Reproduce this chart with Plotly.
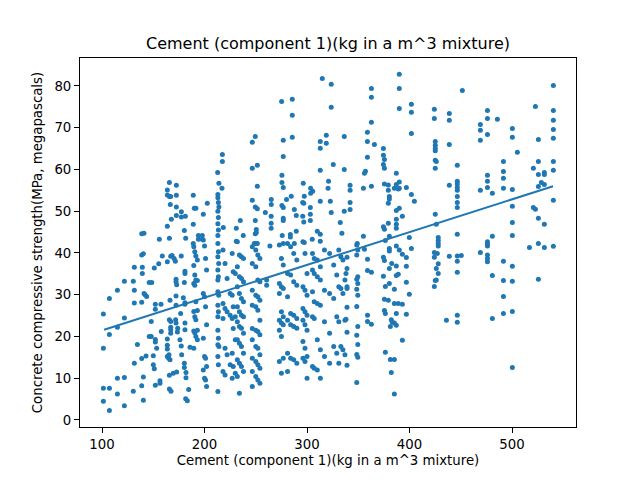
import numpy as np
import plotly.graph_objects as go

# cement (kg/m^3) vs compressive strength (MPa), grouped by cement range
cement_a = [101.3, 101.3, 101.3, 101.3, 107.2, 107.2, 107.2, 107.2, 115, 115, 115, 115,
            121.8, 121.8, 121.8, 121.8, 130.5, 131.5, 131.5, 131.5, 131.5, 130.5, 134.5,
            138.7, 140.9, 138.7, 140.3, 139.3, 139.3, 138.7, 141, 142, 143.5, 142.9, 138.7,
            140.3, 138.7, 140.3, 146, 148.5, 148, 148, 146, 150, 150, 151, 151, 152, 152, 152,
            152, 153.3, 152, 155.3, 155.9, 156.5, 156.5, 157.5, 157.8, 158.8]
strength_a = [25.4, 17.2, 7.6, 4.5, 29.1, 20.5, 7.6, 2.3, 31.1, 22.2, 10, 6.2,
              33.2, 24.4, 10.2, 3.4, 33.2, 36.6, 31.1, 28, 13.6, 6.9, 18.1,
              44.6, 44.7, 39.5, 39.8, 36.6, 35.1, 28.2, 30.3, 30, 29.6, 15.3, 14.7,
              10.3, 8.2, 4.7, 32.9, 32.9, 23.6, 20, 20, 15.4, 13.2, 12.3, 36.4, 27.7, 26.5, 19.3,
              18.7, 17.2, 8.3, 37.4, 43.3, 9.4, 8.8, 27.7, 21.2, 39.3]

cement_b = [163.7, 163.7, 165.7, 165.7, 167, 166.6, 167.6, 163.7, 165.7, 163.7, 167, 168.3,
            166.3, 165.7, 167, 167, 167, 167, 163.7, 163.7, 163.7, 163.7, 165.3, 165, 166.3,
            165.7, 169.5, 172.8, 165.7, 167.3,
            172.5, 172.5, 172.5, 172.5, 171.5, 170.3, 172.2, 172.2, 172.8, 172.2, 172.2,
            171.8, 172.2, 173.8, 173.5,
            177.4, 177.4, 181.3, 180.3, 181.6, 177.3, 176.7, 180.9, 180.9, 180.3, 180.9,
            180.9, 179.3, 180.9, 180.9, 176, 177.3, 177.7, 180.3, 180.3, 181.9, 181.9, 184.5,
            181.6, 183.2, 185.8]
strength_b = [55.1, 53.9, 56.9, 53.5, 53.5, 51.6, 48.1, 46.4, 43.5, 37.9, 39.2, 39.4,
              28.7, 24, 23.6, 22.2, 21.6, 20.8, 19.4, 17.9, 17, 15.2, 15.6, 14.8, 14.4,
              10.7, 11.2, 11.5, 7.4, 6.9,
              56.2, 53.8, 51, 49, 38, 38.7, 33.7, 33.1, 32.4, 29.7, 27.5,
              24, 23.2, 22, 21.1,
              49.9, 48.6, 48.8, 45.4, 43.5, 39.3, 25.5, 23.2, 21.6, 32.9, 35.6,
              35.1, 29.3, 28.1, 27.7, 19.2, 17.7, 15.6, 13.6, 12.6, 11.4, 10.1, 7.3,
              5.1, 4.6, 17.4]

cement_c = [189, 189, 190, 191.6, 189, 194, 197.8, 194, 197.8, 198.8, 202.7,
            189.5, 190.5, 191.5, 193, 189.5, 190.5, 191.5, 193, 189.5, 190.5, 191.5, 193,
            189.5, 190.5, 191.5, 193, 189.5, 190.5, 191.5, 193, 189.5,
            198.8, 200, 201, 202, 198.8, 200, 201, 202, 198.8, 200, 201, 202, 198.8, 200, 201, 202]
strength_c = [53.8, 46.9, 50.7, 50.7, 42.3, 44.2, 44.2, 43.3, 43.3, 49.3, 51.9,
              41.5, 40.3, 39.3, 38.3, 37, 34.7, 33.5, 33.4, 32.7, 32.3, 28.3, 26.2,
              26, 24.7, 24, 21.5, 21.3, 20.9, 20, 19.2, 17.2,
              43.1, 41.7, 38.7, 35.9, 30.3, 29.5, 27.1, 22.8, 19.6, 15.2, 14.8, 12.8, 12, 10, 9.6, 8]

cement_d = [217.4, 217.4, 212.8, 214, 217, 213, 213, 213.5, 214, 213, 213.5, 213, 218.3, 213.5, 213,
            213, 213.5, 213, 213.8, 213, 213.5, 213, 213, 213.8, 213, 213.5, 213, 213, 213.5,
            213, 214, 213, 213.5, 213,
            231, 234.9, 237.8, 231,
            218, 220, 222, 225, 218, 220, 222, 225, 218, 220, 222, 225, 218, 220,
            227, 228, 230, 227, 228, 230, 227, 228, 230, 227, 228, 230, 227,
            232, 234, 236, 238, 232, 234, 236, 238, 232, 234, 236, 238, 232, 234, 236, 238,
            232, 234, 236, 238, 232, 234, 236, 238, 232, 234, 236, 238, 232, 234]
strength_d = [63.6, 61.9, 59.3, 56.7, 55.5, 54, 53.2, 52.1, 51, 50, 48.5, 47, 46.1, 45.5, 44.2,
              42.3, 40.3, 39.1, 37.5, 35.9, 34.3, 33.5, 30.7, 29.9, 27.5, 25.9, 24.7, 21.5, 19.6,
              18, 17.6, 15.2, 13.2, 6.8,
              45.9, 47.8, 44.2, 42.8,
              40.7, 37.5, 33.9, 30.3, 27.9, 26.7, 25.9, 25.1, 24.3, 17.2, 15.6, 13.2, 11.6, 10.8,
              39.9, 35.5, 35.1, 29.9, 27.1, 24.7, 24.3, 21.9, 19.2, 16, 12.8, 11.2, 10,
              42.7, 39.5, 39.1, 38.7, 36.7, 34.3, 33.9, 33.1, 31.9, 30.3, 29.1, 28.3, 27.1, 25.9,
              25.1, 24.7, 23.5, 22.4, 22, 20.8, 19.2, 18.4, 17.6, 16, 14.4, 13.6, 12.8, 11.6,
              10.4, 6.4]

cement_e = [246.6, 249.5, 246.6, 251.5, 251.5, 246.6, 249.5, 251.5, 249.5, 250.5, 249.5, 250.5,
            248.5, 251.5, 250,
            246.6, 250, 252, 254, 246.6, 250, 252, 254, 246.6, 250, 252, 254, 246.6, 250, 252, 254,
            246.6, 250, 252, 254, 246.6, 250, 252, 254, 246.6, 250, 252, 254, 246.6, 250, 252, 254,
            246.6,
            260.6, 260.6, 263.8, 259.3, 265.1, 265.1, 265, 265, 265]
strength_e = [66.5, 67.9, 60.3, 61, 56, 52.6, 51, 50.6, 47.8, 45.6, 44.6, 44.9,
              42.3, 42.3, 42.3,
              41.5, 40.7, 39.5, 38.7, 37.5, 36.7, 33.5, 33.1, 31.1, 29.9, 29.5, 28.7, 27.5, 27.1,
              26.3, 23.9, 21.9, 21.5, 21.2, 20.4, 19.2, 17.6, 17.2, 15.6, 14.8, 14, 13.2, 12.4,
              11.6, 10.4, 9.6, 8.8, 8,
              33.5, 32.3, 41.7, 49.7, 52.8, 51.6, 48.8, 47.1, 45.9]

cement_f = [275.2, 285.6, 285.6, 276.8, 285.6, 276.8, 275.5, 275.5, 276.8, 275.5, 276.8, 276.8,
            276.8, 275.8, 280, 284.6, 287.6, 289.5, 289.5, 283.7, 283.7, 287.6, 276.8,
            273, 275, 276.8, 273, 275, 276.8, 273, 275, 276.8, 273, 275, 276.8, 273, 275, 276.8,
            273, 275,
            281, 284, 287, 290, 281, 284, 287, 290, 281, 284, 287, 290, 281, 284, 287, 290,
            281, 284, 287, 290, 281]
strength_f = [76.3, 76.8, 73, 67, 67.7, 63.1, 58.6, 56.9, 55.7, 51.4, 50.9, 48.3,
              47.8, 44.2, 52.8, 53.6, 50.4, 49, 45.2, 44.4, 43.8, 42.3, 42.3,
              41.9, 38.7, 37.1, 32.7, 31.9, 31.5, 30.3, 25.9, 24.7, 23.9, 23.2, 22.8, 21.5, 20, 14.8,
              14, 11.2,
              42.3, 41.5, 39.9, 38.3, 35.1, 34.7, 33.1, 32.3, 29.5, 25.5, 25.1, 24.3, 23.9, 22.8,
              22.4, 22, 16, 14.8, 14.4, 13.6, 11.6]

cement_g = [296.3, 297.3, 295.8, 296.8, 295.8, 296.8, 303.5, 305.5, 303.5, 303.2, 303.2, 303.2,
            297.3, 305.1, 310, 312.9, 312.9, 312.9, 312.9, 312.9, 312.9, 314.9,
            296, 298, 300, 296, 298, 300, 296, 298, 300, 296, 298, 300, 296, 298, 300, 296, 298, 300,
            305.3, 307, 310, 313, 305.3, 307, 310, 313, 305.3, 307, 310, 313, 305.3, 307, 310, 313,
            305.3, 307, 310, 313]
strength_g = [56.7, 53.6, 52.1, 51.9, 48.8, 47.4, 55.5, 54.8, 54.3, 50.9, 49.3, 47.8,
              42.5, 43.3, 45.2, 44.5, 42.8, 52.4, 59.8, 66.7, 65.1, 81.8,
              42.7, 39.9, 35.1, 31.9, 31.1, 29.9, 26.7, 25.9, 25.1, 23.9, 22.8, 21.5, 18.8, 17.2,
              15.2, 14.8, 14, 10,
              39.9, 38.7, 38.3, 36.7, 35.9, 35.1, 34.3, 33.5, 30.7, 28.3, 27.9, 27.5, 24.7, 24.3,
              19.2, 16.8, 12.8, 12.4, 12, 10]

cement_h = [323.6, 323.6, 318.8, 318.8, 325.6, 321, 320.5, 322.7, 323.6, 332.4, 334, 336.3, 336.3, 336.3,
            317, 322, 326, 329, 317, 322, 326, 329, 317, 322, 326, 329, 317, 322,
            331, 333, 335, 337, 331, 333, 335, 337, 331, 333, 335, 337, 331]
strength_h = [80.4, 74.9, 68.2, 66.3, 61.2, 57.2, 55.5, 52.4, 49.7, 47.3, 44.7, 67.9, 60, 50,
              40.7, 39.9, 37.1, 34.7, 31.1, 30.3, 29.1, 24.7, 23.5, 20.8, 17.6, 16, 15.2, 13.6,
              40.7, 39.1, 38.3, 33.5, 31.9, 31.5, 30.3, 23.9, 23.5, 17.6, 16.8, 15.6, 13.6]

cement_i = [342, 342, 342, 342, 356, 357, 355, 355, 349, 362.8, 362.8, 362.8, 362.8, 358.9, 358.9,
            358.9, 365.7,
            339, 339, 338, 339, 339, 339, 338, 339, 339,
            348.5, 349.5, 348.5, 349.5, 348.5, 349.5, 348.5, 349.5, 348.5, 349.5, 348.5, 349.5,
            348.5, 349.5, 348.5,
            356, 359, 359, 359, 359, 362.8, 362.8]
strength_i = [56.2, 55, 52.1, 50.4, 59.1, 59.6, 55.5, 44, 42.3, 79.4, 77.3, 71.3, 56, 68.9, 66.7,
              62.9, 66,
              39, 36.3, 35.1, 31.9, 31.5, 27, 24.1, 21, 13.1,
              41.9, 40.7, 39.5, 34.3, 33.7, 32.7, 31.3, 29.9, 27.2, 22.4, 20.3, 18.1,
              15.7, 15, 9,
              40.9, 38.5, 35.8, 25.1, 23.6, 35.4, 22.9]

cement_j = [374.5, 374.5, 375.5, 374.5, 375.5, 375.5, 379.3, 379.3, 380.3, 380.3, 379.3, 385.2,
            387.1, 390, 390, 387.1, 389, 387.1, 390, 393, 387.1, 387.1, 387.1, 374.5, 375.5,
            379.3, 376.4, 380.3, 396.9, 401.8, 401.8, 401.8, 401.8, 404.7, 399.8, 390, 390, 390,
            374.5, 375.5, 374.5, 376.4, 375.5, 379.3, 375.5, 376.4, 380.3, 380.3, 382.6, 380.3,
            387.1, 389, 387.1, 380.3, 385.2, 385.2, 389, 393, 387.1, 382.2, 383.2, 385.2, 387.1,
            381.3, 393, 387.1, 390, 393, 396.9, 396.9, 396.9, 396.9, 399.8, 401.8, 376.4, 381.3,
            385.2, 382.2, 385.2]
strength_j = [65, 63.4, 62.4, 61.2, 60.3, 56.5, 56.3, 55, 53.5, 52.9, 51.9, 55.5,
              59.1, 57, 55.5, 56.4, 55.3, 50.2, 50.7, 48.8, 48.1, 46.9, 45.9, 46.3, 45.7,
              47.1, 43, 44, 55.7, 75.6, 73.7, 68.6, 54, 52.4, 43.7, 82.8, 79.4, 74.6,
              39, 38.2, 34.4, 32, 28.9, 28.7, 26.2, 25.5, 41.1, 40.5, 37.5, 36.3,
              36.9, 34.9, 34.6, 32.7, 31.3, 27.9, 27.9, 27.7, 25.5, 24, 23.4, 23.2, 22.7,
              22.4, 19.1, 41.7, 40.7, 39.7, 38.9, 36.8, 33, 25.3, 30.1, 41.1, 16.2, 14.5,
              14.5, 11.4, 6.2]

cement_k = [424.2, 424.2, 425.1, 425.1, 425.1, 425.1, 425.1, 426.1, 425.1, 425.1, 426.1, 428, 428,
            428, 438.8, 438.8, 438.8, 438.8, 446.6, 446.6, 446.6, 446.6, 446.6, 446.6, 446.6,
            446.6, 446.6, 451.5,
            424.2, 424.2, 427.1, 428, 426.1, 428, 425.1, 426.1, 424.2, 428, 436, 438.8, 446.6,
            446.6, 450.5, 446.6, 446.6, 446.6]
strength_k = [74.4, 72.2, 66.7, 65.8, 65, 64.5, 62.2, 61.9, 60.3, 49.3, 46.9, 43.7, 43,
              42.3, 73.4, 71.8, 66, 56.2, 61, 57.2, 56.5, 55.7, 55, 53.5, 52.1,
              50.9, 44.5, 78.9,
              40.1, 39, 39.9, 37.4, 36.3, 35.1, 33.4, 33.5, 32, 41.7, 23.9, 39.2, 39.3,
              38, 39.4, 35.4, 25.1, 23.4]

cement_l = [476, 476, 485.7, 469.1, 469.1, 469.1, 476, 500.3, 500.3, 505.2, 491.6, 491.6, 491.6,
            491.6, 476, 476, 476, 469.1, 480.8, 500.3, 500.3, 500.3, 500.3, 522.8, 525.7, 540.3,
            540.3, 540.3, 540.3, 540.3, 540.3, 540.3, 540.3, 525.7, 520.8, 525.7, 531.5, 531.5,
            528.6, 525.7, 531.5, 520.8, 522.8, 525.7, 531.5, 480.8,
            476, 476, 476, 476, 476, 476, 469.1, 517, 525.7, 531.5, 540.3, 491.6, 500.3, 480.8,
            491.6, 500.3, 525.7, 491.6, 491.6, 500.3, 480.8, 500.3]
strength_l = [74.1, 72.2, 72, 70.8, 69.4, 67, 68.4, 69.8, 67.7, 64.1, 61.9, 59.5, 57.9,
              55.5, 58.6, 57.2, 55.7, 55, 54.3, 55.2, 51.2, 47.3, 44.2, 75.1, 67.2, 80.1,
              74.1, 71.8, 69.6, 67.5, 61.9, 59.8, 52.6, 61.9, 60.3, 58.8, 59.3, 58.8,
              56.9, 55.9, 56.4, 50.9, 50.5, 48.3, 46.9, 44,
              42.7, 42.1, 41.7, 39.5, 38.7, 37.9, 40.1, 41.3, 42.3, 41.3, 41.6, 38, 36.8, 34.6,
              33.4, 33.2, 33.7, 29.6, 25.5, 26, 24.3, 12.6]

# regression line as drawn in the reference (end points of the fitted line)
fit_cement = [102, 540]
fit_strength = [21.6, 56.0]

cement_groups = [cement_a, cement_b, cement_c, cement_d, cement_e, cement_f,
                 cement_g, cement_h, cement_i, cement_j, cement_k, cement_l]
strength_groups = [strength_a, strength_b, strength_c, strength_d, strength_e, strength_f,
                   strength_g, strength_h, strength_i, strength_j, strength_k, strength_l]
for cx, sy in zip(cement_groups, strength_groups):
    assert len(cx) == len(sy), (len(cx), len(sy))

cement = np.concatenate(cement_groups)
strength = np.concatenate(strength_groups)

blue = "#1f77b4"
font = "DejaVu Sans"

fig = go.Figure()
fig.add_trace(go.Scatter(
    x=cement, y=strength, mode="markers",
    marker=dict(color=blue, size=5, line=dict(width=0)),
    showlegend=False,
))
fig.add_trace(go.Scatter(
    x=fit_cement, y=fit_strength, mode="lines",
    line=dict(color=blue, width=2),
    showlegend=False,
))

axis_style = dict(
    showline=True, linecolor="black", linewidth=1, mirror=True,
    ticks="outside", ticklen=5, tickwidth=1, tickcolor="black",
    showgrid=False, zeroline=False, automargin=False,
    tickfont=dict(family=font, size=13.3, color="black"),
)
fig.update_xaxes(
    range=[78.5, 562.4], tickvals=[100, 200, 300, 400, 500],
    title=dict(text="Cement (component 1)(kg in a m^3 mixture)",
               font=dict(family=font, size=13.3, color="black"), standoff=4),
    **axis_style,
)
fig.update_yaxes(
    range=[-1.68, 86.7], tickvals=[0, 10, 20, 30, 40, 50, 60, 70, 80],
    title=dict(text="Concrete compressive strength(MPa, megapascals)",
               font=dict(family=font, size=13.3, color="black"), standoff=8),
    **axis_style,
)
fig.update_layout(
    width=640, height=480,
    margin=dict(l=80, r=64, t=58, b=53),
    paper_bgcolor="white", plot_bgcolor="white",
    title=dict(text="Cement (component 1)(kg in a m^3 mixture)",
               x=0.5, xref="paper", y=1 - 43 / 480, yref="container", yanchor="middle",
               font=dict(family=font, size=16, color="black")),
)
# drop the page's default body margin so the 640x480 figure sits at the window origin
fig.write_html("out.html", config={"displayModeBar": False},
               post_script="document.body.style.margin = '0px';")
